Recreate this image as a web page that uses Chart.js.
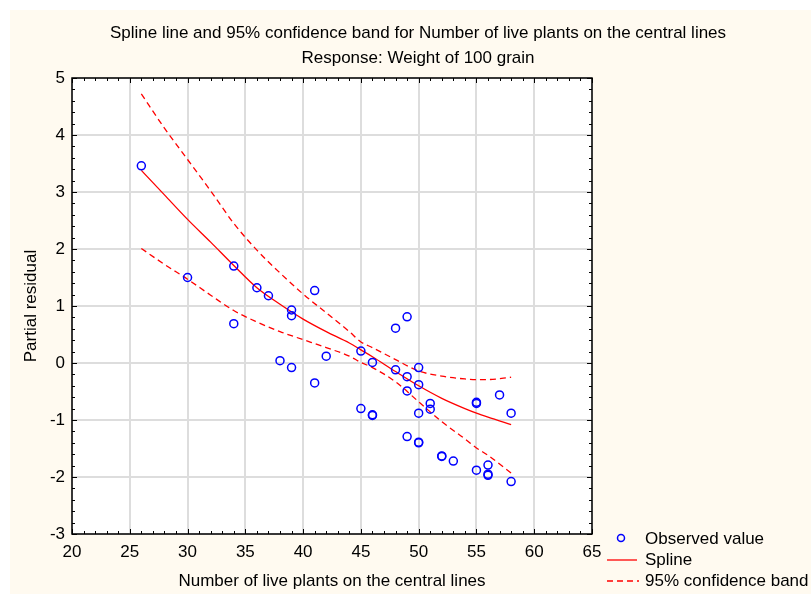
<!DOCTYPE html>
<html><head><meta charset="utf-8">
<script src="https://cdn.jsdelivr.net/npm/chart.js@4/dist/chart.umd.min.js"></script>
<style>html,body{margin:0;padding:0;background:#fff;}</style>
</head><body>
<canvas id="c" width="811" height="594" style="display:block;width:811px;height:594px"></canvas>
<script>
// ---- Data ----
const titleLines = ["Spline line and 95% confidence band for Number of live plants on the central lines", "Response: Weight of 100 grain"];
const xAxisTitle = "Number of live plants on the central lines";
const yAxisTitle = "Partial residual";
const legendLabels = ["Observed value", "Spline", "95% confidence band"];

const xTicks = [20, 25, 30, 35, 40, 45, 50, 55, 60, 65];
const yTicks = [-3, -2, -1, 0, 1, 2, 3, 4, 5];

const observedX = [26, 30, 34, 34, 36, 37, 38, 39, 39, 39, 41, 41, 42, 45, 45, 46, 46, 46, 48, 48, 49, 49, 49, 49, 50, 50, 50, 50, 50, 51, 51, 52, 52, 53, 55, 55, 55, 56, 56, 56, 57, 58, 58];
const observedY = [3.46, 1.50, 1.70, 0.69, 1.32, 1.18, 0.04, 0.93, 0.83, -0.08, 1.27, -0.35, 0.12, 0.21, -0.80, 0.01, -0.91, -0.92, 0.61, -0.12, 0.81, -0.24, -0.49, -1.29, -0.08, -0.38, -0.88, -1.39, -1.40, -0.71, -0.81, -1.63, -1.64, -1.72, -0.69, -0.71, -1.88, -1.79, -1.95, -1.97, -0.56, -0.88, -2.08];

const curveX  = [26, 28, 30, 32, 34, 36, 38, 40, 42, 44, 45, 46, 48, 50, 52, 54, 55, 56, 58];
const splineY = [3.38, 2.95, 2.52, 2.12, 1.71, 1.32, 1.03, 0.77, 0.55, 0.35, 0.23, 0.11, -0.15, -0.40, -0.62, -0.80, -0.88, -0.95, -1.08];
const upperY  = [4.72, 4.12, 3.57, 3.02, 2.45, 1.98, 1.58, 1.21, 0.88, 0.55, 0.37, 0.27, 0.06, -0.14, -0.23, -0.28, -0.29, -0.29, -0.25];
const lowerY  = [2.01, 1.73, 1.47, 1.19, 0.92, 0.72, 0.55, 0.41, 0.27, 0.12, 0.01, -0.08, -0.33, -0.68, -1.03, -1.33, -1.49, -1.62, -1.93];

// ---- Chart ----
const FONT = "'Liberation Sans', Arial, sans-serif";
const FS = 17;
Chart.defaults.font.family = FONT;
Chart.defaults.color = '#000';

const pts = (xs, ys) => xs.map((x, i) => ({x: x, y: ys[i]}));

const decor = {
  id: 'decor',
  beforeDraw(chart) {
    const ctx = chart.ctx, a = chart.chartArea;
    ctx.save();
    ctx.fillStyle = '#ffffff';
    ctx.fillRect(0, 0, chart.width, chart.height);
    ctx.fillStyle = '#fffaf0';
    ctx.fillRect(10, 10, chart.width - 10, chart.height - 10);
    ctx.fillStyle = '#ffffff';
    ctx.fillRect(a.left, a.top, a.right - a.left, a.bottom - a.top);
    ctx.restore();
  },
  afterDraw(chart) {
    const ctx = chart.ctx, a = chart.chartArea;
    const xs = chart.scales.x, ys = chart.scales.y;
    ctx.save();
    // minor / major inner ticks
    ctx.strokeStyle = '#000';
    ctx.lineWidth = 1;
    ctx.beginPath();
    for (let v = xs.min; v <= xs.max + 1e-9; v += 1) {
      const p = Math.round(xs.getPixelForValue(v)) + 0.5;
      const len = (Math.round(v) % 5 === 0) ? 5 : 3;
      ctx.moveTo(p, a.bottom); ctx.lineTo(p, a.bottom - len);
      ctx.moveTo(p, a.top); ctx.lineTo(p, a.top + len);
    }
    for (let k = 0; k <= 40; k++) {
      const v = ys.min + k * 0.2;
      const p = Math.round(ys.getPixelForValue(v)) + 0.5;
      const len = (k % 5 === 0) ? 5 : 3;
      ctx.moveTo(a.left, p); ctx.lineTo(a.left + len, p);
      ctx.moveTo(a.right, p); ctx.lineTo(a.right - len, p);
    }
    ctx.stroke();
    // frame
    ctx.lineWidth = 1.5;
    ctx.strokeStyle = '#000';
    ctx.strokeRect(a.left, a.top, a.right - a.left, a.bottom - a.top);

    // titles
    ctx.fillStyle = '#000';
    ctx.font = FS + 'px ' + FONT;
    ctx.textAlign = 'center';
    ctx.textBaseline = 'middle';
    ctx.fillText(titleLines[0], 418, 33);
    ctx.fillText(titleLines[1], 418, 58);
    ctx.fillText(xAxisTitle, (a.left + a.right) / 2, 581);
    ctx.save();
    ctx.translate(31, (a.top + a.bottom) / 2);
    ctx.rotate(-Math.PI / 2);
    ctx.fillText(yAxisTitle, 0, 0);
    ctx.restore();

    // legend
    const ds = chart.data.datasets;
    const lx0 = 607, lx1 = 637, tx = 645;
    const rows = [539, 560, 581];
    ctx.textAlign = 'left';
    ctx.textBaseline = 'middle';
    ctx.beginPath();
    ctx.strokeStyle = ds[0].borderColor; ctx.lineWidth = ds[0].borderWidth;
    ctx.arc(621, rows[0] - 1, 3.5, 0, Math.PI * 2);
    ctx.stroke();
    ctx.beginPath();
    ctx.strokeStyle = ds[1].borderColor; ctx.lineWidth = ds[1].borderWidth;
    ctx.moveTo(lx0, rows[1]); ctx.lineTo(lx1, rows[1]); ctx.stroke();
    ctx.beginPath();
    ctx.setLineDash(ds[2].borderDash);
    ctx.strokeStyle = ds[2].borderColor; ctx.lineWidth = ds[2].borderWidth;
    ctx.moveTo(lx0, rows[2]); ctx.lineTo(lx1 + 2, rows[2]); ctx.stroke();
    ctx.setLineDash([]);
    ctx.fillStyle = '#000';
    ctx.font = FS + 'px ' + FONT;
    legendLabels.forEach((t, i) => ctx.fillText(t, tx, rows[i]));
    ctx.restore();
  }
};

new Chart(document.getElementById('c'), {
  type: 'scatter',
  data: {
    datasets: [
      {label: legendLabels[0], data: pts(observedX, observedY), showLine: false,
       pointStyle: 'circle', pointRadius: 4, pointBorderWidth: 1.5, borderWidth: 1.5,
       borderColor: '#0000ff', pointBorderColor: '#0000ff', backgroundColor: 'rgba(0,0,0,0)', pointBackgroundColor: 'rgba(0,0,0,0)', order: 0},
      {label: legendLabels[1], data: pts(curveX, splineY), showLine: true, pointRadius: 0,
       borderColor: '#ff0000', borderWidth: 1.3, tension: 0.4, cubicInterpolationMode: 'monotone', order: 1},
      {label: legendLabels[2], data: pts(curveX, upperY), showLine: true, pointRadius: 0,
       borderColor: '#ff0000', borderWidth: 1.3, borderDash: [6, 4], cubicInterpolationMode: 'monotone', order: 2},
      {label: legendLabels[2], data: pts(curveX, lowerY), showLine: true, pointRadius: 0,
       borderColor: '#ff0000', borderWidth: 1.3, borderDash: [6, 4], cubicInterpolationMode: 'monotone', order: 2}
    ]
  },
  options: {
    responsive: false,
    animation: false,
    events: [],
    layout: {padding: {top: 78, right: 219, left: 0, bottom: 0}},
    plugins: {legend: {display: false}, title: {display: false}, tooltip: {enabled: false}},
    scales: {
      x: {
        type: 'linear', min: 20, max: 65,
        afterBuildTicks: s => { s.ticks = xTicks.map(v => ({value: v})); },
        afterFit: s => { s.height = 60; },
        ticks: {font: {size: FS}, color: '#000', padding: 8, maxRotation: 0, autoSkip: false},
        grid: {drawTicks: false, color: '#dddddd', lineWidth: 2},
        border: {display: false}
      },
      y: {
        type: 'linear', min: -3, max: 5,
        afterBuildTicks: s => { s.ticks = yTicks.map(v => ({value: v})); },
        afterFit: s => { s.width = 72; },
        ticks: {font: {size: FS}, color: '#000', padding: 7, autoSkip: false},
        grid: {drawTicks: false, color: '#dddddd', lineWidth: 2},
        border: {display: false}
      }
    }
  },
  plugins: [decor]
});
</script>
</body></html>
